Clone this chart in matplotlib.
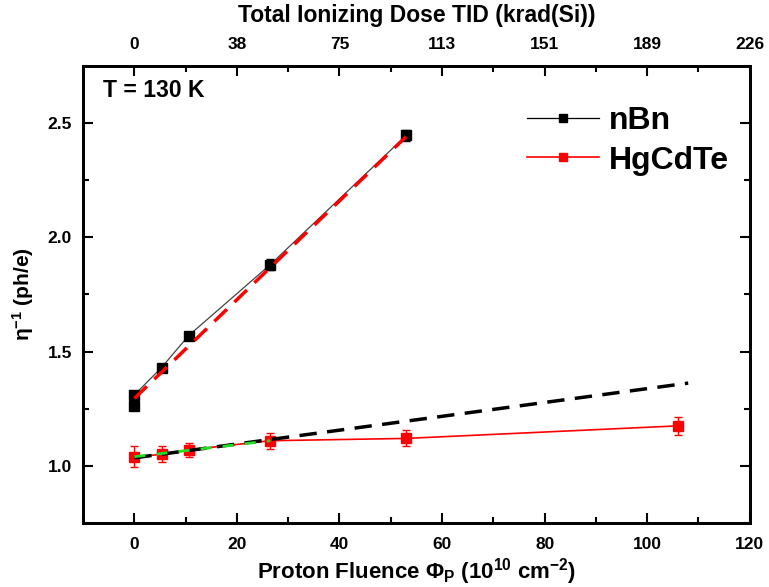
import matplotlib.pyplot as plt
import numpy as np

plt.rcParams.update({
    "font.family": ["Liberation Sans", "DejaVu Sans"],
    "font.weight": "bold",
    "mathtext.fontset": "custom",
    "mathtext.rm": "Liberation Sans:bold",
    "mathtext.bf": "Liberation Sans:bold",
    "mathtext.it": "Liberation Sans:bold",
})

# DATA ##########################################

fluence_nbn = [0, 0, 5.3, 10.6, 26.5, 53.0]
eta_nbn = [1.26, 1.31, 1.43, 1.57, 1.88, 2.445]
err_nbn = [0.0, 0.0, 0.0, 0.0, 0.025, 0.025]

fluence_hg = [0, 5.3, 10.6, 26.5, 53.0, 106.0]
eta_hg = [1.04, 1.05, 1.07, 1.11, 1.12, 1.175]
err_hg = [0.045, 0.035, 0.03, 0.035, 0.035, 0.04]

fit_nbn_x = [0, 53.0]
fit_nbn_y = [1.295, 2.44]
fit_hg_x = [0, 108.0]
fit_hg_y = [1.035, 1.362]
fit_hg_low_x = [0, 26.5]
fit_hg_low_y = [1.04, 1.11]

tid_labels = ["0", "38", "75", "113", "151", "189", "226"]

# FIGURE ########################################

fig = plt.figure(figsize=(7.69, 5.87), dpi=100)
ax = fig.add_axes([0.108, 0.109, 0.867, 0.779])

ax.plot(fluence_nbn, eta_nbn, "-", color="#444444", lw=0.9, zorder=3)
ax.errorbar(fluence_nbn, eta_nbn, yerr=err_nbn, fmt="s", color="black", ms=7,
            capsize=3, elinewidth=1, zorder=4)
ax.plot(fluence_hg, eta_hg, "-", color="red", lw=1.2, zorder=3)
ax.errorbar(fluence_hg, eta_hg, yerr=err_hg, fmt="s", color="red", ms=7,
            capsize=3, elinewidth=1, zorder=4)

ax.plot(fit_nbn_x, fit_nbn_y, "--", color="red", lw=2.5, dashes=(5, 3), zorder=5)
ax.plot(fit_hg_x, fit_hg_y, "--", color="black", lw=2.5, dashes=(5, 3), zorder=5)
ax.plot(fit_hg_low_x, fit_hg_low_y, "--", color="#22dd22", lw=2.0, dashes=(4, 4), zorder=6)

# legend proxies
ax.plot([], [], "-s", color="black", lw=0.9, ms=6, label="nBn")
ax.plot([], [], "-s", color="red", lw=1.2, ms=6, label="HgCdTe")
h, l = ax.get_legend_handles_labels()
ax.legend(h[-2:], l[-2:], loc="upper right", bbox_to_anchor=(1.012, 0.975), frameon=False,
          prop={"size": 23, "weight": "bold"}, handlelength=2.25, handletextpad=0.3,
          labelspacing=0.3)

ax.set_xlim(-10, 120)
ax.set_ylim(0.75, 2.75)
ax.set_xticks([0, 20, 40, 60, 80, 100, 120])
ax.set_xticks(np.arange(-10, 121, 10), minor=True)
ax.set_yticks([1.0, 1.5, 2.0, 2.5])
ax.set_yticks([0.75, 1.25, 1.75, 2.25, 2.75], minor=True)
ax.set_yticklabels(["1.0", "1.5", "2.0", "2.5"])
ax.tick_params(which="both", direction="in", width=1.5, labelsize=12.5, right=True)
ax.tick_params(which="major", length=7)
ax.tick_params(which="minor", length=4)
ax.tick_params(axis="x", pad=10)
ax.tick_params(axis="y", pad=8)
for s in ax.spines.values():
    s.set_linewidth(2)

ax.set_xlabel("Proton Fluence Φ$_{P}$ (10$^{10}$ cm$^{-2}$)",
              fontsize=16, fontweight="bold", labelpad=3)
ax.set_ylabel("η$^{-1}$ (ph/e)", fontsize=15, fontweight="bold", labelpad=8)

ax2 = ax.twiny()
ax2.set_xlim(ax.get_xlim())
ax2.set_xticks([0, 20, 40, 60, 80, 100, 120])
ax2.set_xticklabels(tid_labels)
ax2.set_xticks(np.arange(-10, 121, 10), minor=True)
ax2.tick_params(which="both", direction="in", width=1.5, labelsize=12.5, pad=10)
ax2.tick_params(which="major", length=7)
ax2.tick_params(which="minor", length=4)
ax2.set_xlabel("Total Ionizing Dose TID (krad(Si))", fontsize=16.5, fontweight="bold", labelpad=11)
for s in ax2.spines.values():
    s.set_linewidth(2)

ax.text(0.03, 0.972, "T = 130 K", transform=ax.transAxes, fontsize=16.5,
        fontweight="bold", va="top")

plt.savefig("out.png", dpi=100)
